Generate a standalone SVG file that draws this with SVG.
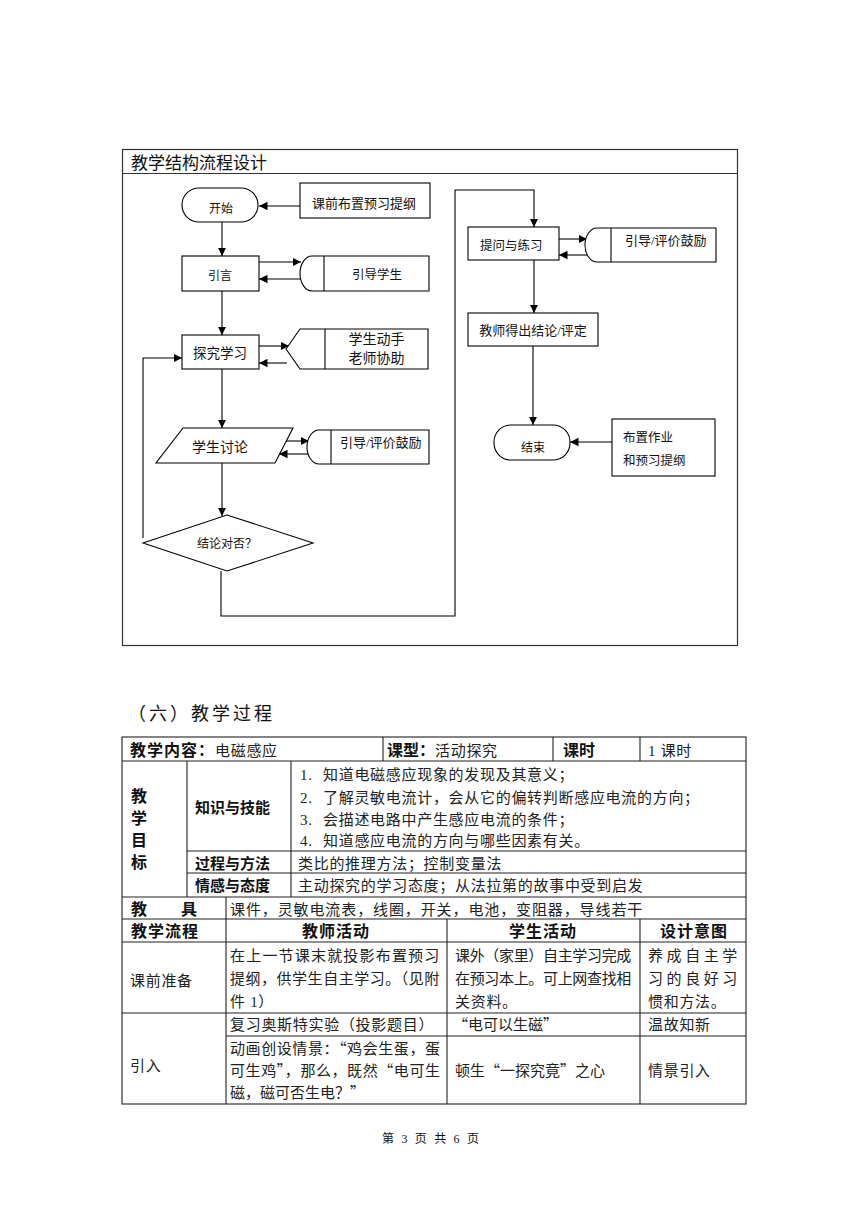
<svg xmlns="http://www.w3.org/2000/svg" width="860" height="1216" viewBox="0 0 860 1216">
<style>
.fr{fill:none;stroke:#333;stroke-width:1.2}
.sh{fill:#fff;stroke:#000;stroke-width:1.1}
.ln{fill:none;stroke:#000;stroke-width:1.1}
.ar{fill:none;stroke:#000;stroke-width:1.1;marker-end:url(#ah)}
.ft{font-family:"Liberation Serif","Noto Sans CJK SC",serif;fill:#111}
.tl{fill:none;stroke:#222;stroke-width:1.1}
.n{font-family:"Liberation Serif","Noto Sans CJK SC",serif;font-size:15px;letter-spacing:0.7px;fill:#222}
.q{font-family:"Noto Sans CJK SC","Liberation Serif",sans-serif;font-size:15px;fill:#222}
.b{font-family:"Noto Sans CJK SC",sans-serif;font-weight:bold;fill:#111}
</style>
<defs>
<marker id="ah" markerUnits="userSpaceOnUse" markerWidth="9" markerHeight="9" refX="8.5" refY="4.5" orient="auto">
<path d="M0,0.3 L8.5,4.5 L0,8.7 z" fill="#000"/>
</marker>
</defs>
<rect width="860" height="1216" fill="#fff"/>

<!-- flowchart frame -->
<g id="frame">
<rect class="fr" x="122.5" y="149.5" width="615" height="496"/>
<line class="fr" x1="122.5" y1="173.5" x2="737.5" y2="173.5"/>
<text class="ft" x="131" y="168.5" font-size="17">教学结构流程设计</text>
</g>

<g id="connectors">
<line class="ar" x1="300" y1="206" x2="259" y2="206"/>
<line class="ar" x1="222" y1="222" x2="222" y2="256"/>
<line class="ar" x1="259" y1="262" x2="301" y2="262"/>
<line class="ar" x1="301" y1="279" x2="259" y2="279"/>
<line class="ar" x1="222" y1="291" x2="222" y2="335"/>
<line class="ar" x1="259" y1="346" x2="289" y2="346"/>
<line class="ar" x1="287" y1="363" x2="259" y2="363"/>
<line class="ar" x1="222" y1="369" x2="222" y2="428"/>
<line class="ar" x1="281" y1="441" x2="309" y2="441"/>
<line class="ar" x1="309" y1="454" x2="279" y2="454"/>
<line class="ar" x1="222" y1="463" x2="222" y2="516"/>
<polyline class="ar" points="143,538 143,358 182,358"/>
<polyline class="ar" points="221,571 221,616 455,616 455,190 534,190 534,227"/>
<line class="ar" x1="559" y1="239" x2="587" y2="239"/>
<line class="ar" x1="587" y1="255" x2="559" y2="255"/>
<line class="ar" x1="534" y1="260" x2="534" y2="313"/>
<line class="ar" x1="533" y1="346" x2="533" y2="425"/>
<line class="ar" x1="612" y1="442" x2="570" y2="442"/>
</g>

<g id="n_start">
<rect class="sh" x="182" y="188" width="76" height="34" rx="17" ry="17"/>
<text class="ft" x="221" y="212.5" font-size="12" text-anchor="middle">开始</text>
</g>
<g id="n_prep">
<rect class="sh" x="300" y="183" width="130" height="35"/>
<text class="ft" x="312" y="207.5" font-size="13">课前布置预习提纲</text>
</g>
<g id="n_intro">
<rect class="sh" x="182" y="256" width="77" height="35"/>
<text class="ft" x="220" y="279.5" font-size="12" text-anchor="middle">引言</text>
</g>
<g id="n_guide1">
<path class="sh" d="M312,256 H429 V291 H312 A12,17.5 0 0 1 312,256 Z"/>
<line class="ln" x1="324" y1="256" x2="324" y2="291"/>
<text class="ft" x="377" y="278.7" font-size="12.5" text-anchor="middle">引导学生</text>
</g>
<g id="n_explore">
<rect class="sh" x="182" y="335" width="77" height="34"/>
<text class="ft" x="193" y="357.6" font-size="13.5">探究学习</text>
</g>
<g id="n_hands">
<polygon class="sh" points="286,349 300,329 428,329 428,369 300,369"/>
<line class="ln" x1="325" y1="329" x2="325" y2="369"/>
<text class="ft" x="376.5" y="344.3" font-size="14" text-anchor="middle">学生动手</text>
<text class="ft" x="376.5" y="362.8" font-size="14" text-anchor="middle">老师协助</text>
</g>
<g id="n_discuss">
<polygon class="sh" points="183,428 293,428 275,463 156,463"/>
<text class="ft" x="220" y="452.3" font-size="14" text-anchor="middle">学生讨论</text>
</g>
<g id="n_guide2">
<path class="sh" d="M319,430 H429 V464 H319 A12,17 0 0 1 319,430 Z"/>
<line class="ln" x1="331" y1="430" x2="331" y2="464"/>
<text class="ft" x="340" y="447.4" font-size="13">引导/评价鼓励</text>
</g>
<g id="n_decide">
<polygon class="sh" points="143,543 227,515 313,543 227,571"/>
<text class="ft" x="197" y="548" font-size="12">结论对否？</text>
</g>
<g id="n_ask">
<rect class="sh" x="468" y="227" width="91" height="33"/>
<text class="ft" x="480" y="249.7" font-size="12.5">提问与练习</text>
</g>
<g id="n_guide3">
<path class="sh" d="M597,228 H716 V262 H597 A12,17 0 0 1 597,228 Z"/>
<line class="ln" x1="611" y1="228" x2="611" y2="262"/>
<text class="ft" x="625" y="245.4" font-size="13">引导/评价鼓励</text>
</g>
<g id="n_conclude">
<rect class="sh" x="468" y="313" width="130" height="33"/>
<text class="ft" x="533" y="335" font-size="13" text-anchor="middle">教师得出结论/评定</text>
</g>
<g id="n_end">
<rect class="sh" x="494" y="425" width="76" height="35" rx="17" ry="17"/>
<text class="ft" x="533" y="451.6" font-size="12" text-anchor="middle">结束</text>
</g>
<g id="n_homework">
<rect class="sh" x="612" y="419" width="103" height="57"/>
<text class="ft" x="623" y="442.3" font-size="12.5">布置作业</text>
<text class="ft" x="623" y="465.3" font-size="12.5">和预习提纲</text>
</g>

<!-- heading -->
<text class="ft" x="128" y="720" font-size="18" letter-spacing="3" fill="#222">（六）教学过程</text>

<!-- table -->
<g id="table_lines">
<rect class="tl" x="122" y="737" width="624" height="367" stroke-width="1.4"/>
<line class="tl" x1="122" y1="761" x2="746" y2="761"/>
<line class="tl" x1="187" y1="851" x2="746" y2="851"/>
<line class="tl" x1="187" y1="873" x2="746" y2="873"/>
<line class="tl" x1="122" y1="897" x2="746" y2="897"/>
<line class="tl" x1="122" y1="919" x2="746" y2="919"/>
<line class="tl" x1="122" y1="942" x2="746" y2="942"/>
<line class="tl" x1="122" y1="1013" x2="746" y2="1013"/>
<line class="tl" x1="226" y1="1036" x2="746" y2="1036"/>
<line class="tl" x1="383" y1="737" x2="383" y2="761"/>
<line class="tl" x1="553" y1="737" x2="553" y2="761"/>
<line class="tl" x1="640" y1="737" x2="640" y2="761"/>
<line class="tl" x1="187" y1="761" x2="187" y2="897"/>
<line class="tl" x1="291" y1="761" x2="291" y2="897"/>
<line class="tl" x1="226" y1="897" x2="226" y2="1104"/>
<line class="tl" x1="447" y1="919" x2="447" y2="1104"/>
<line class="tl" x1="640" y1="919" x2="640" y2="1104"/>
</g>

<g id="row_header">
<text class="b" x="130" y="756" font-size="16" letter-spacing="1">教学内容：<tspan class="n" font-size="16" font-weight="normal" letter-spacing="0.5">电磁感应</tspan></text>
<text class="b" x="387" y="756" font-size="16">课型：<tspan class="n" font-size="16" font-weight="normal" letter-spacing="0">活动探究</tspan></text>
<text class="b" x="563" y="756" font-size="16">课时</text>
<text class="n" x="648" y="756" font-size="16" letter-spacing="0">1 课时</text>
</g>

<g id="row_goals">
<text class="b" x="131" y="802" font-size="16">教</text>
<text class="b" x="131" y="824" font-size="16">学</text>
<text class="b" x="131" y="846" font-size="16">目</text>
<text class="b" x="131" y="868" font-size="16">标</text>
<text class="b" x="195" y="812.7" font-size="15">知识与技能</text>
<text class="b" x="195" y="868.7" font-size="15">过程与方法</text>
<text class="b" x="195" y="890.7" font-size="15">情感与态度</text>
<text class="n" x="300" y="779.7">1.</text>
<text class="n" x="323" y="779.7">知道电磁感应现象的发现及其意义；</text>
<text class="n" x="300" y="802.7">2.</text>
<text class="n" x="323" y="802.7">了解灵敏电流计，会从它的偏转判断感应电流的方向；</text>
<text class="n" x="300" y="824.7">3.</text>
<text class="n" x="323" y="824.7">会描述电路中产生感应电流的条件；</text>
<text class="n" x="300" y="845.7">4.</text>
<text class="n" x="323" y="845.7">知道感应电流的方向与哪些因素有关。</text>
<text class="n" x="298" y="868.7">类比的推理方法；控制变量法</text>
<text class="n" x="298" y="890.7">主动探究的学习态度；从法拉第的故事中受到启发</text>
</g>

<g id="row_tools">
<text class="b" x="131" y="915" font-size="16">教</text>
<text class="b" x="181" y="915" font-size="16">具</text>
<text class="n" x="230" y="914.7" textLength="413" lengthAdjust="spacing">课件，灵敏电流表，线圈，开关，电池，变阻器，导线若干</text>
</g>

<g id="row_cols">
<text class="b" x="131" y="937" font-size="16" letter-spacing="1">教学流程</text>
<text class="b" x="336" y="937" font-size="16" letter-spacing="1" text-anchor="middle">教师活动</text>
<text class="b" x="543" y="937" font-size="16" letter-spacing="1" text-anchor="middle">学生活动</text>
<text class="b" x="694" y="937" font-size="16" letter-spacing="1" text-anchor="middle">设计意图</text>
</g>

<g id="row_prep">
<text class="n" x="130" y="985.7">课前准备</text>
<text class="n" x="230" y="960.7" textLength="210" lengthAdjust="spacing">在上一节课末就投影布置预习</text>
<text class="n" x="230" y="983.7" textLength="210" lengthAdjust="spacing">提纲，供学生自主学习。（见附</text>
<text class="n" x="230" y="1006.7">件 1）</text>
<text class="n" x="455" y="960.7" textLength="177" lengthAdjust="spacing">课外（家里）自主学习完成</text>
<text class="n" x="455" y="983.7" textLength="177" lengthAdjust="spacing">在预习本上。可上网查找相</text>
<text class="n" x="455" y="1006.7">关资料。</text>
<text class="n" x="648" y="960.7" textLength="90" lengthAdjust="spacing">养成自主学</text>
<text class="n" x="648" y="983.7" textLength="90" lengthAdjust="spacing">习的良好习</text>
<text class="n" x="648" y="1006.7">惯和方法。</text>
</g>

<g id="row_intro">
<text class="n" x="130" y="1070.7">引入</text>
<text class="n" x="230" y="1029.7">复习奥斯特实验（投影题目）</text>
<text class="q" x="453" y="1029.7">“电可以生磁”</text>
<text class="n" x="648" y="1029.7">温故知新</text>
<text class="q" x="230" y="1053.7" textLength="210" lengthAdjust="spacing">动画创设情景：“鸡会生蛋，蛋</text>
<text class="q" x="230" y="1075.7" textLength="210" lengthAdjust="spacing">可生鸡”，那么，既然“电可生</text>
<text class="q" x="230" y="1097.7">磁，磁可否生电？”</text>
<text class="q" x="455" y="1075.7">顿生“一探究竟”之心</text>
<text class="n" x="648" y="1075.7">情景引入</text>
</g>

<text class="ft" x="382" y="1142.5" font-size="12" textLength="97" lengthAdjust="spacing" fill="#222">第 3 页 共 6 页</text>
</svg>
